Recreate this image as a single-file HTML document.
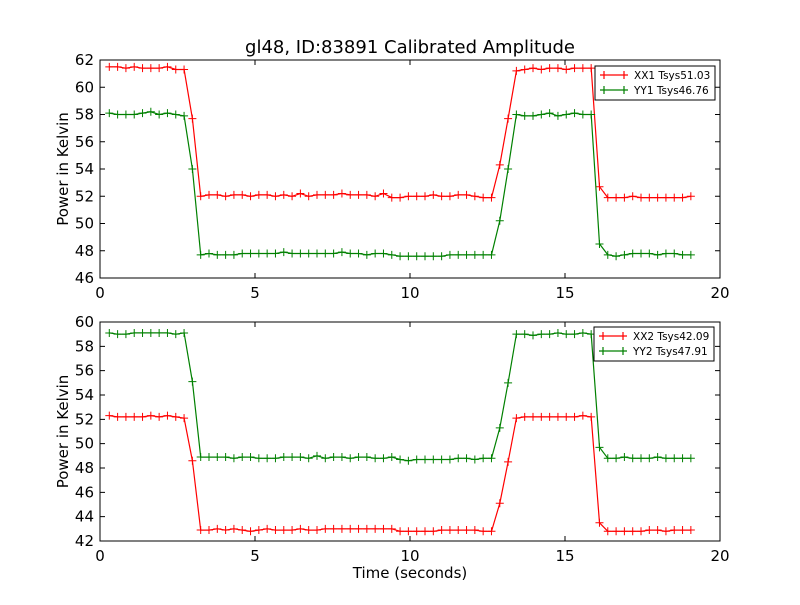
<!DOCTYPE html>
<html><head><meta charset="utf-8"><style>
body{margin:0;background:#fff;}
svg{font-family:"DejaVu Sans","Liberation Sans",sans-serif;}
</style></head><body>
<svg id="c" width="800" height="600" xmlns="http://www.w3.org/2000/svg">
<rect width="800" height="600" fill="#fff"/>
<text x="410" y="53" font-size="18" text-anchor="middle">gl48, ID:83891 Calibrated Amplitude</text>
<text x="410" y="578" font-size="15" text-anchor="middle">Time (seconds)</text>
</svg>
<script>
const t0 = 0.3, dt = 0.268;
const xx1 = [61.5,61.5,61.4,61.5,61.4,61.4,61.4,61.5,61.3,61.3,57.7,
52.0,52.1,52.1,52.0,52.1,52.1,52.0,52.1,52.1,52.0,52.1,52.0,52.2,52.0,52.1,52.1,52.1,52.2,52.1,52.1,52.1,52.0,52.2,51.9,51.9,52.0,52.0,52.0,52.1,52.0,52.0,52.1,52.1,52.0,51.9,51.9,
54.3,57.7,61.2,61.3,61.4,61.3,61.4,61.4,61.3,61.4,61.4,61.4,52.7,
51.9,51.9,51.9,52.0,51.9,51.9,51.9,51.9,51.9,51.9,52.0];
const yy1 = [58.1,58.0,58.0,58.0,58.1,58.2,58.0,58.1,58.0,57.9,54.0,
47.7,47.8,47.7,47.7,47.7,47.8,47.8,47.8,47.8,47.8,47.9,47.8,47.8,47.8,47.8,47.8,47.8,47.9,47.8,47.8,47.7,47.8,47.8,47.7,47.6,47.6,47.6,47.6,47.6,47.6,47.7,47.7,47.7,47.7,47.7,47.7,
50.2,54.0,58.0,57.9,57.9,58.0,58.1,57.9,58.0,58.1,58.0,58.0,48.5,
47.7,47.6,47.7,47.8,47.8,47.8,47.7,47.8,47.8,47.7,47.7];
const xx2 = [52.3,52.2,52.2,52.2,52.2,52.3,52.2,52.3,52.2,52.1,48.6,
42.9,42.9,43.0,42.9,43.0,42.9,42.8,42.9,43.0,42.9,42.9,42.9,43.0,42.9,42.9,43.0,43.0,43.0,43.0,43.0,43.0,43.0,43.0,43.0,42.8,42.8,42.8,42.8,42.8,42.9,42.9,42.9,42.9,42.9,42.8,42.8,
45.1,48.5,52.1,52.2,52.2,52.2,52.2,52.2,52.2,52.2,52.3,52.2,43.5,
42.8,42.8,42.8,42.8,42.8,42.9,42.9,42.8,42.9,42.9,42.9];
const yy2 = [59.1,59.0,59.0,59.1,59.1,59.1,59.1,59.1,59.0,59.1,55.1,
48.9,48.9,48.9,48.9,48.8,48.9,48.9,48.8,48.8,48.8,48.9,48.9,48.9,48.8,49.0,48.8,48.9,48.9,48.8,48.9,48.9,48.8,48.8,48.9,48.7,48.6,48.7,48.7,48.7,48.7,48.7,48.8,48.8,48.7,48.8,48.8,
51.3,55.0,59.0,59.0,58.9,59.0,59.0,59.1,59.0,59.0,59.1,59.0,49.7,
48.8,48.8,48.9,48.8,48.8,48.8,48.9,48.8,48.8,48.8,48.8];
const xTicks = [0,5,10,15,20];
const yTicksTop = [46,48,50,52,54,56,58,60,62];
const yTicksBot = [42,44,46,48,50,52,54,56,58,60];
const legendTop = ["XX1 Tsys51.03","YY1 Tsys46.76"];
const legendBot = ["XX2 Tsys42.09","YY2 Tsys47.91"];

const svg = document.getElementById('c');
const NS = 'http://www.w3.org/2000/svg';
function mk(tag, attrs){const e=document.createElementNS(NS,tag);for(const k in attrs)e.setAttribute(k,attrs[k]);svg.appendChild(e);return e;}

function panel(name, top, bottom, ymin, ymax, yTicks, series, legend, leg){
  const L=100,R=720;
  const sx=v=>L+(v-0)/(20-0)*(R-L);
  const sy=v=>bottom-(v-ymin)/(ymax-ymin)*(bottom-top);
  series.forEach((s,si)=>{
    const col=si===0?'#ff0000':'#008000';
    const pts=s.map((v,i)=>sx(t0+i*dt).toFixed(1)+','+sy(v).toFixed(1)).join(' ');
    const pl=mk('polyline',{points:pts,fill:'none',stroke:col,'stroke-width':1.2});
    
    
    s.forEach((v,i)=>{
      const x=sx(t0+i*dt),y=sy(v);
      const m=mk('path',{d:`M${x-4},${y}H${x+4}M${x},${y-4}V${y+4}`,stroke:col,'stroke-width':1});
      
      
    });
  });
  const fr=mk('rect',{x:L,y:top,width:R-L,height:bottom-top,fill:'none',stroke:'#000','stroke-width':1});
  
  
  xTicks.forEach(v=>{
    const x=sx(v);
    mk('path',{d:`M${x},${bottom}v-5M${x},${top}v5`,stroke:'#000'});
    const t=mk('text',{x:x,y:bottom+20,'font-size':15,'text-anchor':'middle'});
    t.textContent=v;
    
    
  });
  yTicks.forEach(v=>{
    const y=sy(v);
    mk('path',{d:`M${L},${y}h5M${R},${y}h-5`,stroke:'#000'});
    const t=mk('text',{x:L-6,y:y+5,'font-size':15,'text-anchor':'end'});
    t.textContent=v;
    
    
  });
  const yt=mk('text',{x:0,y:0,'font-size':15,'text-anchor':'middle',transform:`translate(68,${(top+bottom)/2}) rotate(-90)`});
  yt.textContent='Power in Kelvin';
  
  
  const lb=mk('rect',{x:leg[0],y:leg[1],width:120,height:34,fill:'#fff',stroke:'#000','stroke-width':1});
  
  
  legend.forEach((s,i)=>{
    const col=i===0?'#ff0000':'#008000';
    const y=leg[1]+9+i*15, x=leg[0]+5;
    mk('path',{d:`M${x},${y}h28M${x+4},${y-4}v8M${x+24},${y-4}v8`,stroke:col,'stroke-width':1.2});
    const t=mk('text',{x:x+34,y:y+4,'font-size':10.5});
    t.textContent=s;
    
    
  });
}
panel('top-panel',60,278,46,62,yTicksTop,[xx1,yy1],legendTop,[595,66]);
panel('bottom-panel',322,541,42,60,yTicksBot,[xx2,yy2],legendBot,[594,327]);
</script>
</body></html>
